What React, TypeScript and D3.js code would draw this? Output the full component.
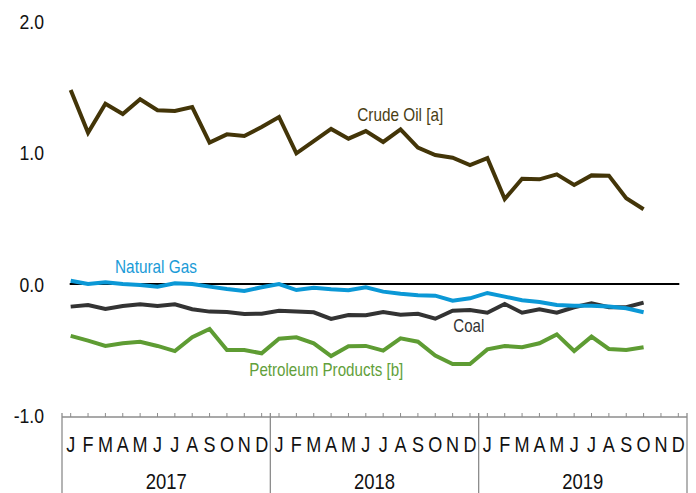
import React from "react";
import * as d3 from "d3";

const years = ["2017", "2018", "2019"];
const monthLetters = ["J", "F", "M", "A", "M", "J", "J", "A", "S", "O", "N", "D"];
const yTicks = [2.0, 1.0, 0.0, -1.0];

const crudeOil = [
  1.475, 1.15, 1.371, 1.293, 1.405, 1.321, 1.316, 1.346, 1.075, 1.138, 1.125, 1.194,
  1.27, 0.994, 1.087, 1.179, 1.105, 1.163, 1.08, 1.176, 1.037, 0.981, 0.96, 0.905,
  0.958, 0.646, 0.8, 0.796, 0.834, 0.753, 0.826, 0.824, 0.652, 0.568,
];
const naturalGas = [
  0.025, 0.0, 0.013, 0.0, -0.008, -0.02, 0.005, 0.0, -0.02, -0.038, -0.053, -0.025,
  0.0, -0.046, -0.028, -0.04, -0.048, -0.025, -0.058, -0.074, -0.086, -0.089, -0.127, -0.109,
  -0.068, -0.096, -0.124, -0.137, -0.16, -0.165, -0.165, -0.172, -0.185, -0.215,
];
const coal = [
  -0.172, -0.16, -0.19, -0.167, -0.155, -0.167, -0.155, -0.192, -0.21, -0.213, -0.228, -0.226,
  -0.203, -0.21, -0.215, -0.266, -0.236, -0.238, -0.213, -0.233, -0.226, -0.264, -0.203, -0.198,
  -0.218, -0.152, -0.218, -0.193, -0.218, -0.177, -0.147, -0.177, -0.177, -0.142,
];
const petroleum = [
  -0.395, -0.431, -0.471, -0.451, -0.439, -0.471, -0.51, -0.405, -0.342, -0.502, -0.502, -0.527,
  -0.416, -0.405, -0.451, -0.548, -0.474, -0.471, -0.507, -0.413, -0.439, -0.545, -0.608, -0.608,
  -0.497, -0.471, -0.481, -0.451, -0.383, -0.51, -0.4, -0.494, -0.502, -0.481,
];

const W = 696;
const H = 493;
const FONT = "'Liberation Sans', Arial, sans-serif";
const NARROW = 0.84;

const months: string[] = [];
years.forEach((y) => monthLetters.forEach((m, i) => months.push(`${y}-${i}`)));

export default function App() {
  const x = d3.scaleBand<string>().domain(months).range([62, 687]).paddingInner(0).paddingOuter(0);
  const cx = (i: number) => (x(months[i]) as number) + x.bandwidth() / 2;
  const y = d3.scaleLinear().domain([-1, 2]).range([415.5, 21]);

  const line = d3
    .line<number>()
    .x((_, i) => cx(i))
    .y((d) => y(d));

  const series = [
    { data: petroleum, color: "#5e9c33" },
    { data: coal, color: "#333333" },
    { data: naturalGas, color: "#0b98d6" },
    { data: crudeOil, color: "#433508" },
  ];

  const axisY = 417;
  const yearBounds = years.map((_, k) => x(months[k * 12]) as number).concat([687]);

  return (
    <svg
      width={W}
      height={H}
      style={{ position: "absolute", left: 0, top: 0, background: "#fff" }}
      fontFamily={FONT}
    >
      {yTicks.map((t) => (
        <text
          key={t}
          transform={`translate(44,${y(t) + 7.5}) scale(${NARROW},1)`}
          textAnchor="end"
          fontSize={21}
          fill="#111"
        >
          {t.toFixed(1)}
        </text>
      ))}

      {/* zero line */}
      <line x1={cx(0) - 1} x2={cx(35) + 1} y1={y(0)} y2={y(0)} stroke="#000" strokeWidth={2} />

      {series.map((s, k) => (
        <path
          key={k}
          d={line(s.data) as string}
          fill="none"
          stroke={s.color}
          strokeWidth={4}
          strokeLinejoin="miter"
          strokeLinecap="butt"
        />
      ))}

      {/* x axis */}
      <line x1={62} x2={687} y1={axisY} y2={axisY} stroke="#8c8c8c" strokeWidth={1.3} />
      {months.map((m, i) => (
        <line key={m} x1={cx(i)} x2={cx(i)} y1={axisY - 4} y2={axisY} stroke="#8c8c8c" strokeWidth={1} />
      ))}
      {yearBounds.map((b, k) => (
        <line key={k} x1={b} x2={b} y1={axisY - 4} y2={H} stroke="#8c8c8c" strokeWidth={1.3} />
      ))}
      {months.map((m, i) => (
        <text
          key={"l" + m}
          transform={`translate(${cx(i)},452) scale(${NARROW},1)`}
          textAnchor="middle"
          fontSize={21.5}
          fill="#111"
        >
          {monthLetters[i % 12]}
        </text>
      ))}
      {years.map((yr, k) => (
        <text
          key={yr}
          transform={`translate(${(yearBounds[k] + yearBounds[k + 1]) / 2},488.5) scale(${NARROW},1)`}
          textAnchor="middle"
          fontSize={22}
          fill="#111"
        >
          {yr}
        </text>
      ))}

      {/* series labels */}
      <text x={357.3} y={120.7} fontSize={18.5} fill="#4a3d12" textLength={86} lengthAdjust="spacingAndGlyphs">
        Crude Oil [a]
      </text>
      <text x={115} y={273.3} fontSize={18.5} fill="#1a9bd7" textLength={82} lengthAdjust="spacingAndGlyphs">
        Natural Gas
      </text>
      <text x={453.3} y={332.3} fontSize={18.5} fill="#333333" textLength={31} lengthAdjust="spacingAndGlyphs">
        Coal
      </text>
      <text x={249.3} y={375.7} fontSize={18.5} fill="#62a03a" textLength={154} lengthAdjust="spacingAndGlyphs">
        Petroleum Products [b]
      </text>
    </svg>
  );
}
